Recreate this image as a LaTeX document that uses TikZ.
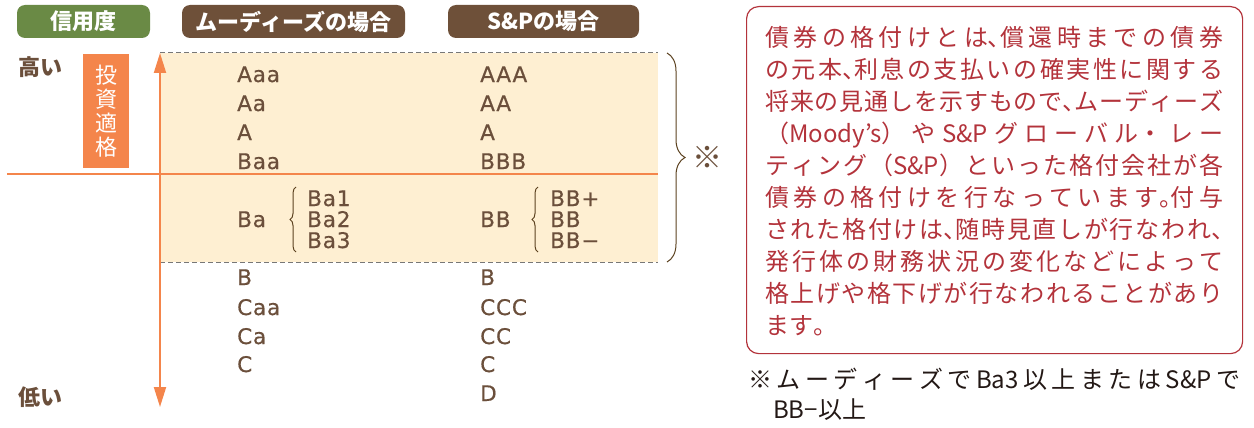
\documentclass[tikz,border=0pt]{standalone}
\usepackage{fontspec}
\setmainfont{Noto Sans CJK JP}
\newfontfamily\pfont{Noto Sans CJK JP}[RawFeature=+palt]
\newcommand\pc[1]{{\pfont #1}}
\newfontfamily\ratfont{DejaVu Sans}[LetterSpace=4,FakeBold=0.6]
\usetikzlibrary{arrows.meta,decorations.pathreplacing}
\definecolor{pillgreen}{HTML}{6A8A45}
\definecolor{pillbrown}{HTML}{6E5039}
\definecolor{accent}{HTML}{F4854B}
\definecolor{band}{HTML}{FEEFD2}
\definecolor{txtbrown}{HTML}{6B4F3B}
\definecolor{bracecol}{HTML}{5C4220}
\definecolor{notered}{HTML}{B3333B}
\definecolor{dashgray}{HTML}{777777}
\definecolor{fnblack}{HTML}{231815}
\XeTeXlinebreaklocale "ja"
\XeTeXlinebreakskip=0pt plus 6pt
\begin{document}
\begin{tikzpicture}[x=1pt,y=-1pt,
  pill/.style={rounded corners=8pt, text=white, inner sep=0pt, minimum height=33pt, font=\bfseries\fontsize{22}{22}\selectfont},
  rating/.style={anchor=base west, inner sep=0pt, text=txtbrown, font=\ratfont\fontsize{21.5}{21.5}\selectfont},
  level/.style={inner sep=0pt, text=txtbrown, font=\bfseries\fontsize{22}{22}\selectfont},
  grp/.style={decorate, decoration={brace, amplitude=6pt}, draw=bracecol, line width=1pt},
  dashline/.style={draw=dashgray, dash pattern=on 5pt off 3pt, line width=1pt},
]
\useasboundingbox (0,0) rectangle (1254,428);

% header pills
\node[pill, fill=pillgreen, minimum width=133pt] (h1) at (83.5,21.5) {信用度};
\node[pill, fill=pillbrown, minimum width=223pt] (h2) at (293.5,21.5) {ムーディーズの場合};
\node[pill, fill=pillbrown, minimum width=191pt] (h3) at (543.5,21.5) {S\&Pの場合};

% band
\node[fill=band, minimum width=498pt, minimum height=209pt, anchor=north west, inner sep=0pt] (band) at (160,53) {};
\draw[dashline] (band.north west) -- (band.north east);
\draw[dashline] (band.south west) -- (band.south east);

% horizontal orange line
\coordinate (hl) at (7,174);
\draw[accent, line width=2pt] (hl) -- (hl -| band.east);

% vertical arrow
\coordinate (atop) at (160,53);
\coordinate (abot) at (160,407);
\draw[accent, line width=2pt, {Triangle[length=20pt,width=12pt]}-{Triangle[length=20pt,width=12pt]}] (abot) -- (atop);

% levels
\node[level] (hi) at (40,67) {高い};
\node[level] (lo) at (40,397) {低い};
\node[fill=accent, text=white, minimum width=46pt, minimum height=114pt, inner sep=0pt, align=center, font=\fontsize{22}{24}\selectfont] (inv) at (106,111) {投\\資\\適\\格};

% Moody's
\node[rating] (m1) at (237,82) {Aaa};
\node[rating] (m2) at (237,111) {Aa};
\node[rating] (m3) at (237,140) {A};
\node[rating] (m4) at (237,169) {Baa};
\node[rating] (m5) at (237,227) {Ba};
\node[rating] (mb1) at (307,206) {Ba1};
\node[rating] (mb2) at (307,227) {Ba2};
\node[rating] (mb3) at (307,248) {Ba3};
\node[rating] (m6) at (237,285) {B};
\node[rating] (m7) at (237,315) {Caa};
\node[rating] (m8) at (237,344) {Ca};
\node[rating] (m9) at (237,372) {C};
\coordinate (mbr1) at (296,252);
\coordinate (mbr2) at (296,187);
\draw[grp] (mbr1) -- (mbr2);

% S&P
\node[rating] (s1) at (480,82) {AAA};
\node[rating] (s2) at (480,111) {AA};
\node[rating] (s3) at (480,140) {A};
\node[rating] (s4) at (480,169) {BBB};
\node[rating] (s5) at (480,227) {BB};
\node[rating] (sb1) at (550,206) {BB+};
\node[rating] (sb2) at (550,227) {BB};
\node[rating] (sb3) at (550,248) {BB−};
\node[rating] (s6) at (480,285) {B};
\node[rating] (s7) at (480,315) {CCC};
\node[rating] (s8) at (480,344) {CC};
\node[rating] (s9) at (480,372) {C};
\node[rating] (s10) at (480,401) {D};
\coordinate (sbr1) at (538,252);
\coordinate (sbr2) at (538,187);
\draw[grp] (sbr1) -- (sbr2);

% big brace
\coordinate (bb1) at (667,53);
\coordinate (bb2) at (667,262);
\draw[decorate, decoration={brace, amplitude=18pt}, draw=bracecol, line width=1pt] (bb1) -- (bb2);
\node[text=txtbrown, inner sep=0pt, font=\fontsize{30}{30}\selectfont] (mark) at (707,157) {※};

% note box
\node[draw=notered, line width=1.2pt, rounded corners=12pt, minimum width=496pt, minimum height=347pt, anchor=north west, inner sep=0pt] (note) at (746,6) {};
\node[anchor=north west, inner sep=0pt, text width=458pt, align=justify, text=notered, font=\fontsize{24}{32}\selectfont] (notetext) at (765,23.6) {\noindent\strut 債券の格付けとは\pc{、}償還時までの債券\linebreak
の元本\pc{、}利息の支払いの確実性に関する\linebreak
将来の見通しを示すもので\pc{、}ムーディーズ\linebreak
（Moody’s）やS\&Pグローバル・レー\linebreak
ティング（S\&P）といった格付会社が各\linebreak
債券の格付けを行なっています\pc{。}付与\linebreak
された格付けは\pc{、}随時見直しが行なわれ\pc{、}\linebreak
発行体の財務状況の変化などによって\linebreak
格上げや格下げが行なわれることがあり\linebreak
ます\pc{。}};

% footnote
\node[anchor=north west, inner sep=0pt, text width=492pt, align=justify, text=fnblack, font=\fontsize{24}{30}\selectfont] (fn) at (748,367) {\noindent\strut ※ムーディーズでBa3以上またはS\&Pで\linebreak\hspace*{25pt}BB−以上};
\end{tikzpicture}
\end{document}
